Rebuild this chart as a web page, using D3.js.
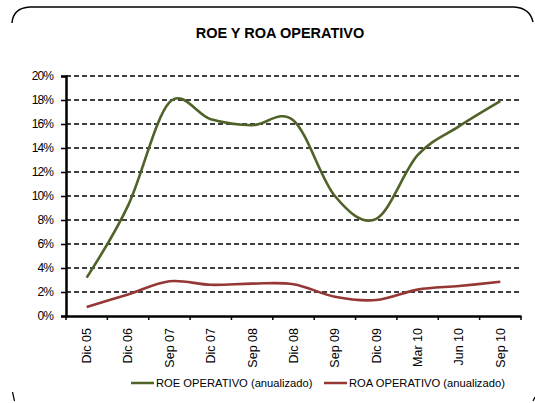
<!DOCTYPE html>
<html>
<head>
<meta charset="utf-8">
<script src="https://cdn.jsdelivr.net/npm/d3@7"></script>
<style>
    body { margin: 0; background: #fff; }
    svg { font-family: 'Liberation Sans', Arial, sans-serif; }
</style>
</head>
<body>
<div id="chart"></div>
<script>
// periodos del eje x
const periods = ['Dic 05', 'Dic 06', 'Sep 07', 'Dic 07', 'Sep 08', 'Dic 08',
    'Sep 09', 'Dic 09', 'Mar 10', 'Jun 10', 'Sep 10'];
// valores (en fraccion)
const roe = [0.032, 0.092, 0.178, 0.164, 0.159, 0.163, 0.100, 0.081, 0.134, 0.158, 0.179];
const roa = [0.0075, 0.018, 0.029, 0.026, 0.027, 0.0265, 0.016, 0.0133, 0.022, 0.025, 0.0285];
const yTicks = [0, 0.02, 0.04, 0.06, 0.08, 0.10, 0.12, 0.14, 0.16, 0.18, 0.20];
const seriesNames = ['ROE OPERATIVO (anualizado)', 'ROA OPERATIVO (anualizado)'];
const seriesColors = ['#4f6228', '#953735'];

const width = 535, height = 403;
const plotLeft = 66, plotRight = 521, plotTop = 76, plotBottom = 316;

let svg = d3.select('#chart').append('svg')
    .attr('width', width)
    .attr('height', height);

// marco redondeado (solo visible arriba y en las esquinas)
svg.append('path')
    .attr('d', 'M12,23 Q13,8 30,7 L514,7 Q530,8 533,22')
    .attr('fill', 'none')
    .attr('stroke', '#000')
    .attr('stroke-width', 1.5);
svg.append('path')
    .attr('d', 'M12.5,392 L14.5,401')
    .attr('stroke', '#000')
    .attr('stroke-width', 1.2);
svg.append('path')
    .attr('d', 'M535,397 L533,401')
    .attr('stroke', '#000')
    .attr('stroke-width', 1.2);

svg.append('text')
    .text('ROE Y ROA OPERATIVO')
    .attr('x', 280)
    .attr('y', 38)
    .attr('text-anchor', 'middle')
    .style('font-size', '14.5px')
    .style('font-weight', 'bold');

let xScale = d3.scaleBand()
    .domain(periods)
    .range([plotLeft, plotRight])
    .padding(0);
let yScale = d3.scaleLinear()
    .domain([0, 0.2])
    .range([plotBottom, plotTop]);

// lineas de grilla
svg.append('g')
    .selectAll('line')
    .data(yTicks.filter(d => d > 0))
    .enter()
    .append('line')
    .attr('x1', plotLeft)
    .attr('x2', plotRight)
    .attr('y1', d => yScale(d))
    .attr('y2', d => yScale(d))
    .attr('stroke', '#000')
    .attr('stroke-width', 1.6)
    .attr('stroke-dasharray', '5,3');

// eje y
let yAxis = d3.axisLeft(yScale)
    .tickValues(yTicks)
    .tickFormat(d3.format('.0%'))
    .tickSize(5)
    .tickPadding(8);
let gy = svg.append('g')
    .attr('transform', `translate(${plotLeft},0)`)
    .call(yAxis);
gy.select('.domain').attr('stroke', '#000').attr('stroke-width', 2.5);
gy.selectAll('.tick line').attr('stroke', '#000').attr('stroke-width', 1.5);
gy.selectAll('.tick text')
    .style('font-size', '12px')
    .style('letter-spacing', '-0.9px')
    .attr('fill', '#000')
    .attr('font-family', null);

// eje x
let xAxis = d3.axisBottom(xScale).tickSize(0).tickPadding(0);
let gx = svg.append('g')
    .attr('transform', `translate(0,${plotBottom})`)
    .call(xAxis);
gx.select('.domain').attr('stroke', '#000').attr('stroke-width', 2.5);
gx.selectAll('.tick text')
    .attr('transform', 'rotate(-90)')
    .attr('x', -12)
    .attr('y', 0)
    .attr('dy', '0.35em')
    .attr('text-anchor', 'end')
    .attr('fill', '#000')
    .attr('font-family', null)
    .style('font-size', '12.5px');
// marcas entre categorias
let bounds = periods.map(p => xScale(p)).concat([plotRight]);
gx.selectAll('.sep')
    .data(bounds)
    .enter()
    .append('line')
    .attr('class', 'sep')
    .attr('x1', d => d)
    .attr('x2', d => d)
    .attr('y1', 0)
    .attr('y2', 4)
    .attr('stroke', '#000')
    .attr('stroke-width', 1.5);

// lineas de datos
let line = d3.line()
    .x((d, i) => xScale(periods[i]) + xScale.bandwidth() / 2)
    .y(d => yScale(d))
    .curve(d3.curveCardinal.tension(0));

[roe, roa].forEach((series, i) => {
    svg.append('path')
        .datum(series)
        .attr('d', line)
        .attr('fill', 'none')
        .attr('stroke', seriesColors[i])
        .attr('stroke-width', 2.6);
});

// leyenda
let legendX = [131, 324];
seriesNames.forEach((name, i) => {
    let g = svg.append('g')
        .attr('transform', `translate(${legendX[i]},383)`);
    g.append('line')
        .attr('x1', 0)
        .attr('x2', 23)
        .attr('y1', 0)
        .attr('y2', 0)
        .attr('stroke', seriesColors[i])
        .attr('stroke-width', 2.5);
    g.append('text')
        .text(name)
        .attr('x', 25)
        .attr('y', 4)
        .style('font-size', '11.2px');
});
</script>
</body>
</html>
